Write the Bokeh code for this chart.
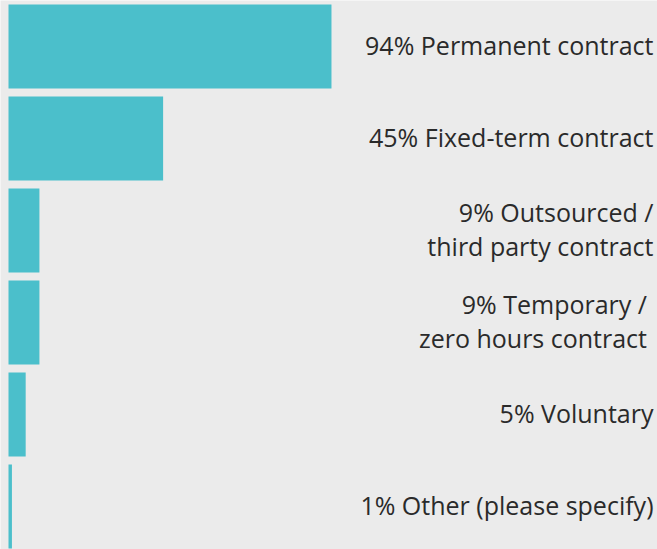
from bokeh.plotting import figure
from bokeh.models import ColumnDataSource, Range1d
from bokeh.core.properties import value
from bokeh.embed import file_html
from bokeh.resources import INLINE

categories = ["Permanent contract", "Fixed-term contract", "Outsourced /\nthird party contract",
              "Temporary / \nzero hours contract ", "Voluntary", "Other (please specify)"]
percent = [94, 45, 9, 9, 5, 1]

labels = []
for c, v in zip(categories, percent):
    labels.append(f"{v}% {c}")

W, H = 657, 549
BAR_H = 84 / 92
px_per_pct = 3.436
x_start = -8 / px_per_pct
x_end = x_start + W / px_per_pct
y_start = -0.5
y_end = y_start + H / 92

pos = list(range(len(percent)))
src = ColumnDataSource(dict(y=pos, v=percent, lab=labels))

p = figure(width=W, height=H, output_backend="svg", toolbar_location=None,
           x_range=Range1d(x_start, x_end),
           y_range=Range1d(y_end, y_start),
           min_border=0, background_fill_color="#ebebeb", border_fill_color="#ebebeb",
           outline_line_color=None)
p.axis.visible = False
p.grid.visible = False

p.hbar(y="y", left=0, right="v", height=BAR_H, source=src, color="#4bbfcb", line_color=None)
p.text(x=x_end, y="y", text="lab", source=src, text_align="right", text_baseline="middle",
       x_offset=-4, y_offset=-2, text_font=value("Open Sans"), text_font_size="25px",
       text_color="#2a2a2a", text_line_height=1.0)

open("out.html", "w").write(file_html(p, INLINE))
